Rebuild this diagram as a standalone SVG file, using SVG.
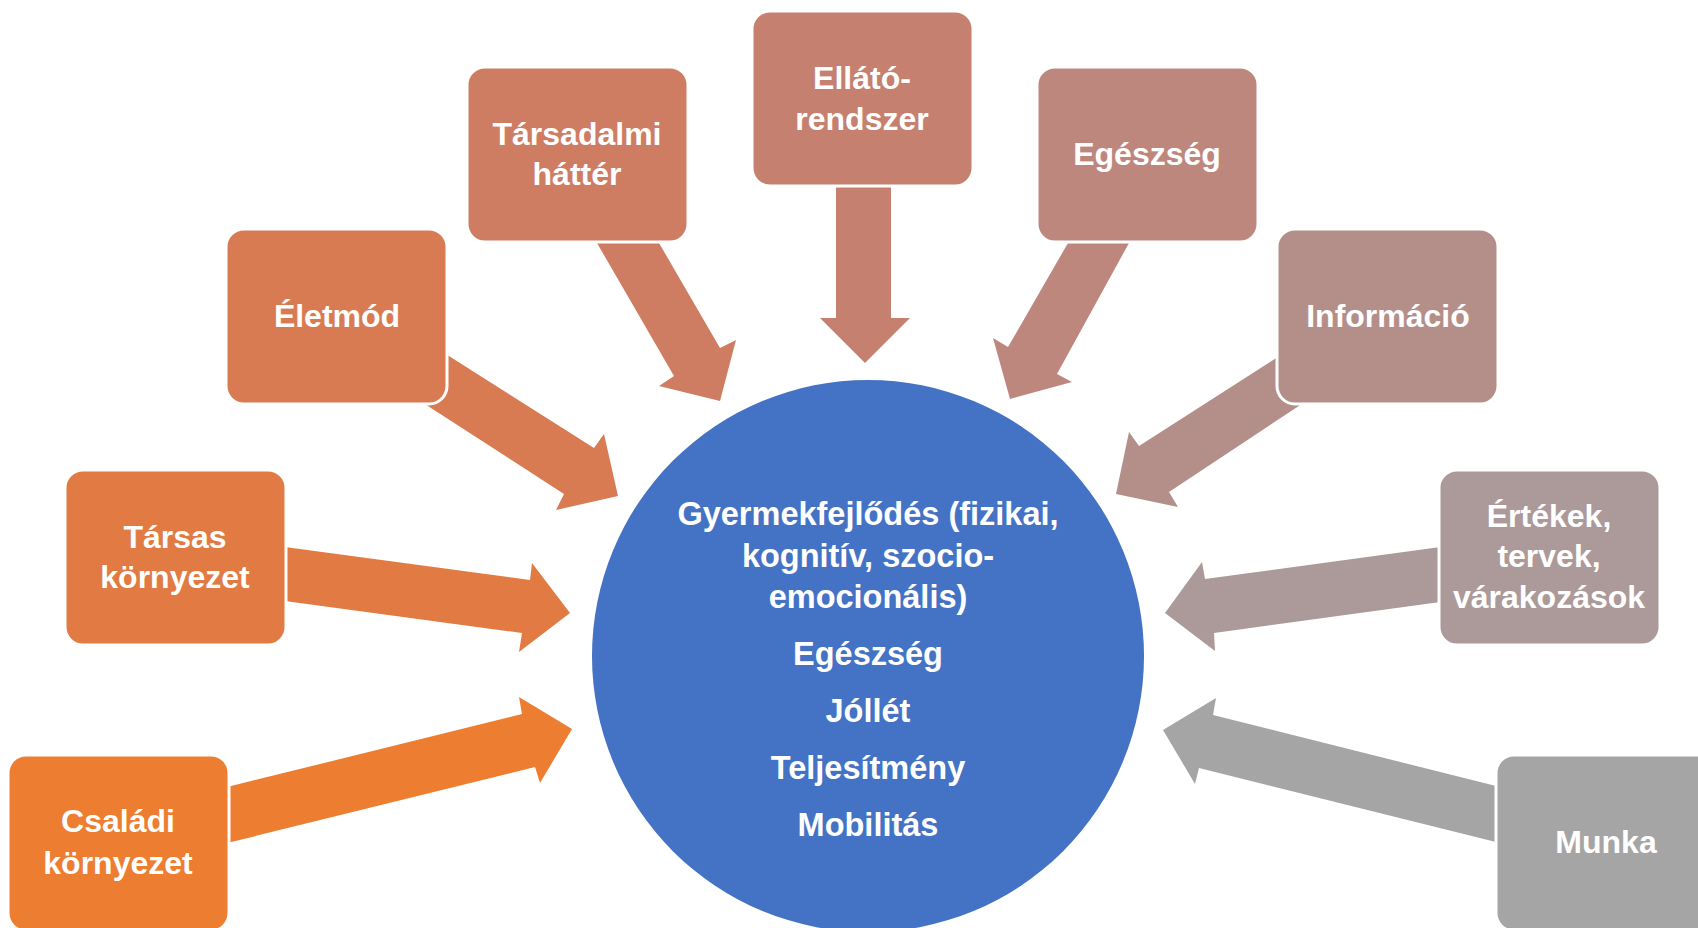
<svg xmlns="http://www.w3.org/2000/svg" width="1698" height="928" viewBox="0 0 1698 928">
<style>
.box{stroke:#fff;stroke-width:3}
.t{font-family:"Liberation Sans",Arial,sans-serif;font-weight:bold;font-size:32px;fill:#fff;text-anchor:middle}
.ct{font-size:32.5px}
</style>
<rect width="1698" height="928" fill="#fff"/>
<circle id="center" cx="868" cy="656" r="276" fill="#4472C4"/>
<g id="connectors">
<polygon fill="#ED7D31" points="215,790 522,714 519,697 572,729 540,783 535,767 215,846"/>
<polygon fill="#E27B43" points="270,545 530,580 532,563 570,613 519,652 522,633 270,599"/>
<polygon fill="#D87B52" points="400,325 594,448 604,434 618,496 556,510 564,494 400,388"/>
<polygon fill="#CE7C62" points="597,243 659,243 720,348 736,340 720,401 659,386 674,376"/>
<polygon fill="#C58070" points="836,186 891,186 891,318 910,318 865,363 820,318 836,318"/>
<polygon fill="#BD877E" points="1068,243 1129,243 1057,374 1072,382 1010,399 993,338 1008,347"/>
<polygon fill="#B48F89" points="1320,330 1139,446 1129,432 1116,494 1178,507 1169,492 1320,392"/>
<polygon fill="#AC9999" points="1455,545 1205,579 1202,562 1165,613 1215,651 1214,633 1455,600"/>
<polygon fill="#A5A5A5" points="1512,790 1213,715 1216,698 1163,730 1195,784 1199,768 1512,846"/>
</g>
<g id="n-csaladi"><rect class="box" x="8" y="755" width="221" height="176" rx="18" fill="#ED7D31"/>
<text class="t" x="118" y="832">Családi</text><text class="t" x="118" y="874">környezet</text></g>
<g id="n-tarsas"><rect class="box" x="65" y="470" width="221" height="175" rx="18" fill="#E27B43"/>
<text class="t" x="175" y="548">Társas</text><text class="t" x="175" y="588">környezet</text></g>
<g id="n-eletmod"><rect class="box" x="226" y="229" width="221" height="175" rx="18" fill="#D87B52"/>
<text class="t" x="337" y="327">Életmód</text></g>
<g id="n-tarsadalmi"><rect class="box" x="467" y="67" width="221" height="175" rx="18" fill="#CE7C62"/>
<text class="t" x="577" y="145">Társadalmi</text><text class="t" x="577" y="185">háttér</text></g>
<g id="n-ellato"><rect class="box" x="752" y="11" width="221" height="175" rx="18" fill="#C58070"/>
<text class="t" x="862" y="89">Ellátó-</text><text class="t" x="862" y="130">rendszer</text></g>
<g id="n-egeszseg"><rect class="box" x="1037" y="67" width="221" height="175" rx="18" fill="#BD877E"/>
<text class="t" x="1147" y="165">Egészség</text></g>
<g id="n-informacio"><rect class="box" x="1277" y="229" width="221" height="175" rx="18" fill="#B48F89"/>
<text class="t" x="1388" y="327">Információ</text></g>
<g id="n-ertekek"><rect class="box" x="1439" y="470" width="221" height="175" rx="18" fill="#AC9999"/>
<text class="t" x="1549" y="527">Értékek,</text><text class="t" x="1549" y="567">tervek,</text><text class="t" x="1549" y="608">várakozások</text></g>
<g id="n-munka"><rect class="box" x="1496" y="755" width="221" height="176" rx="18" fill="#A5A5A5"/>
<text class="t" x="1606" y="853">Munka</text></g>
<g id="center-text">
<text class="t ct" x="868" y="525">Gyermekfejlődés (fizikai,</text>
<text class="t ct" x="868" y="567">kognitív, szocio-</text>
<text class="t ct" x="868" y="608">emocionális)</text>
<text class="t ct" x="868" y="665">Egészség</text>
<text class="t ct" x="868" y="722">Jóllét</text>
<text class="t ct" x="868" y="779">Teljesítmény</text>
<text class="t ct" x="868" y="836">Mobilitás</text>
</g>
</svg>
